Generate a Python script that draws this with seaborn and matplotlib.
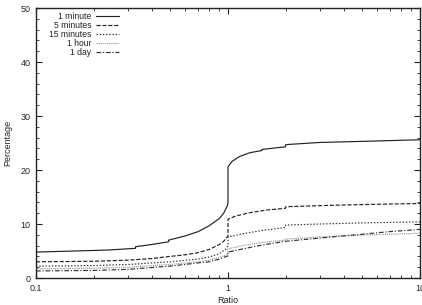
import matplotlib
matplotlib.use("Agg")
import matplotlib.pyplot as plt
import matplotlib.ticker as mticker
import seaborn as sns
import pandas as pd

sns.set_style("ticks")
plt.rcParams['font.family'] = ['Liberation Sans', 'DejaVu Sans']

series_names = ["1 minute", "5 minutes", "15 minutes", "1 hour", "1 day"]

ratio_1min = [0.1, 0.2, 0.243, 0.33, 0.33, 0.4, 0.49, 0.49, 0.6, 0.7, 0.8, 0.9, 0.95, 0.99, 1.0, 1.0,
              1.05, 1.15, 1.3, 1.5, 1.5, 1.99, 2.0, 3, 5, 7, 10]
pct_1min = [4.8, 5.1, 5.2, 5.5, 5.8, 6.2, 6.7, 7.0, 7.8, 8.6, 9.7, 11.0, 12.0, 13.3, 13.9, 20.6,
            21.6, 22.5, 23.2, 23.6, 23.8, 24.3, 24.7, 25.1, 25.3, 25.45, 25.6]

ratio_5min = [0.1, 0.2, 0.3, 0.4, 0.5, 0.6, 0.7, 0.8, 0.9, 0.95, 1.0, 1.0, 1.1, 1.3, 1.6, 1.99, 2.0, 3, 5, 10]
pct_5min = [3.0, 3.1, 3.3, 3.6, 4.0, 4.3, 4.7, 5.3, 6.2, 6.8, 7.8, 10.9, 11.5, 12.1, 12.6, 12.9, 13.2, 13.4, 13.6, 13.8]

ratio_15min = [0.1, 0.2, 0.3, 0.5, 0.7, 0.8, 0.9, 0.97, 1.0, 1.0, 1.2, 1.5, 1.99, 2.0, 3, 5, 10]
pct_15min = [2.2, 2.3, 2.5, 3.0, 3.5, 3.9, 4.5, 5.3, 6.0, 7.6, 8.2, 8.8, 9.35, 9.8, 10.0, 10.2, 10.4]

ratio_1hour = [0.1, 0.2, 0.3, 0.5, 0.7, 0.8, 0.9, 1.0, 1.0, 1.2, 1.5, 1.99, 2.0, 3, 4, 5, 7, 10]
pct_1hour = [1.7, 1.8, 2.0, 2.5, 3.0, 3.3, 3.8, 4.4, 5.4, 6.0, 6.6, 7.0, 7.2, 7.6, 7.8, 7.95, 8.1, 8.3]

ratio_1day = [0.1, 0.2, 0.3, 0.5, 0.7, 0.8, 0.9, 1.0, 1.0, 1.2, 1.5, 2.0, 3, 4, 5, 7, 10]
pct_1day = [1.3, 1.4, 1.6, 2.2, 2.8, 3.0, 3.5, 4.1, 4.8, 5.4, 6.1, 6.8, 7.4, 7.8, 8.1, 8.6, 9.0]

x_ticks = [0.1, 1, 10]
x_tick_labels = ["0.1", "1", "10"]
y_ticks = [0, 10, 20, 30, 40, 50]

data = [(ratio_1min, pct_1min), (ratio_5min, pct_5min), (ratio_15min, pct_15min),
        (ratio_1hour, pct_1hour), (ratio_1day, pct_1day)]
styles = [
    dict(color="#222222", dashes=None),
    dict(color="#222222", dashes=(3.5, 1.5)),
    dict(color="#333333", dashes=(1.2, 1.5)),
    dict(color="#999999", dashes=(1.0, 0.8)),
    dict(color="#333333", dashes=(4, 1.5, 1, 1.5)),
]

fig = plt.figure(figsize=(4.22, 3.05), dpi=100)
ax = fig.add_axes([36 / 422, 1 - 278 / 305, 384 / 422, 270 / 305])

for name, (xs, ys), st in zip(series_names, data, styles):
    df = pd.DataFrame({"Ratio": xs, "Percentage": ys})
    sns.lineplot(data=df, x="Ratio", y="Percentage", ax=ax, estimator=None, sort=False,
                 color=st["color"], linewidth=0.85, label=name)
    line = ax.get_lines()[-1]
    if st["dashes"] is not None:
        line.set_dashes(st["dashes"])

ax.set_xscale("log")
ax.set_xlim(0.1, 10)
ax.set_ylim(0, 50)
ax.set_xticks(x_ticks)
ax.set_xticklabels(x_tick_labels)
ax.xaxis.set_minor_locator(mticker.LogLocator(base=10, subs=range(2, 10)))
ax.xaxis.set_minor_formatter(mticker.NullFormatter())
ax.set_yticks(y_ticks)
ax.yaxis.set_minor_locator(mticker.MultipleLocator(2))

ax.tick_params(which="both", direction="in", top=True, right=True, labelsize=6.5, color="#222222")
ax.tick_params(which="major", length=4, width=0.8, pad=4)
ax.tick_params(which="minor", length=2, width=0.6)
for s in ax.spines.values():
    s.set_linewidth(1.0)
    s.set_color("#222222")

ax.set_xlabel("Ratio", fontsize=6.5, labelpad=2.5)
ax.set_ylabel("Percentage", fontsize=6.5, labelpad=6)

leg = ax.legend(loc="upper left", bbox_to_anchor=(0.02, 1.004), frameon=False, markerfirst=False,
                fontsize=6.2, handlelength=2.7, handletextpad=0.5, labelspacing=0.0,
                borderaxespad=0.2)
for t in leg.get_texts():
    t.set_color("#222222")

fig.savefig("out.png", dpi=100)
